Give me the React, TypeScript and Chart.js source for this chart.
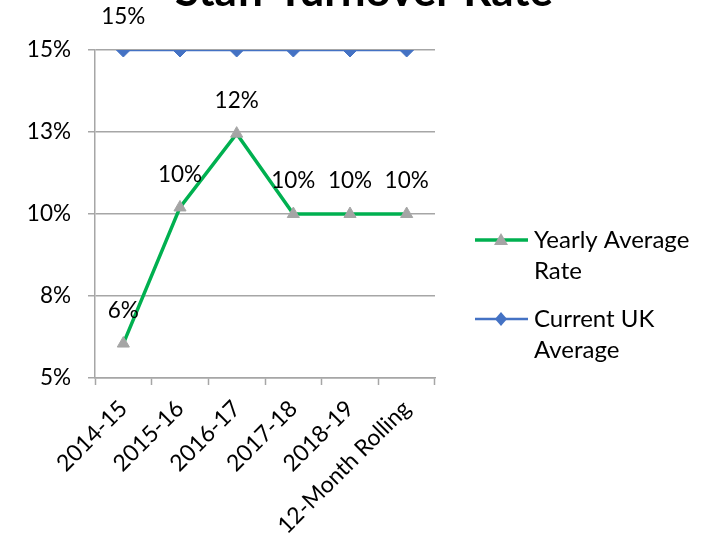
import React, { useEffect, useRef } from "react";
import { Chart, registerables } from "chart.js";

Chart.register(...registerables);

const categories = ["2014-15", "2015-16", "2016-17", "2017-18", "2018-19", "12-Month Rolling"];
const yearlyAverage = [6.05, 10.2, 12.45, 10.0, 10.0, 10.0];
const ukAverage = [15, 15, 15, 15, 15, 15];
const yearlyLabels = ["6%", "10%", "12%", "10%", "10%", "10%"];
const ukLabels = ["15%", "", "", "", "", ""];
const titleText = "Staff Turnover Rate";
const legendLines = [["Yearly Average", "Rate"], ["Current UK", "Average"]];

const FONT = "Lato, 'Open Sans', sans-serif";
const GREEN = "#00b050";
const BLUE = "#4472c4";
const GRAY_MARK = "#a5a5a5";
const GRID = "#a6a6a6";

const overlayPlugin = {
  id: "overlay",
  afterDatasetsDraw(chart: any) {
    const ctx = chart.ctx;
    ctx.save();
    // data labels
    ctx.fillStyle = "#000";
    ctx.font = `22.5px ${FONT}`;
    ctx.textAlign = "center";
    ctx.textBaseline = "middle";
    const labelSets = [yearlyLabels, ukLabels];
    labelSets.forEach((labels, di) => {
      const meta = chart.getDatasetMeta(di);
      meta.data.forEach((pt: any, i: number) => {
        if (labels[i]) ctx.fillText(labels[i], pt.x, pt.y - 33);
      });
    });
    // title
    ctx.font = `bold 44px ${FONT}`;
    ctx.textBaseline = "alphabetic";
    ctx.fillText(titleText, 364, 6);
    // legend
    const items = [
      { color: GREEN, width: 3.5, marker: "triangle", markerColor: GRAY_MARK, y: 240 },
      { color: BLUE, width: 2.5, marker: "diamond", markerColor: BLUE, y: 319 },
    ];
    items.forEach((it, idx) => {
      ctx.strokeStyle = it.color;
      ctx.lineWidth = it.width;
      ctx.beginPath();
      ctx.moveTo(475, it.y);
      ctx.lineTo(528, it.y);
      ctx.stroke();
      ctx.fillStyle = it.markerColor;
      ctx.beginPath();
      const cx = 501;
      if (it.marker === "triangle") {
        ctx.moveTo(cx, it.y - 7);
        ctx.lineTo(cx + 7, it.y + 5);
        ctx.lineTo(cx - 7, it.y + 5);
      } else {
        ctx.moveTo(cx, it.y - 7);
        ctx.lineTo(cx + 6, it.y);
        ctx.lineTo(cx, it.y + 7);
        ctx.lineTo(cx - 6, it.y);
      }
      ctx.closePath();
      ctx.fill();
      ctx.fillStyle = "#000";
      ctx.font = `24px ${FONT}`;
      ctx.textAlign = "left";
      ctx.textBaseline = "middle";
      legendLines[idx].forEach((line, li) => {
        ctx.fillText(line, 534, it.y + li * 31);
      });
    });
    ctx.restore();
  },
};

export default function App() {
  const ref = useRef<HTMLCanvasElement>(null);
  useEffect(() => {
    if (!ref.current) return;
    const chart = new Chart(ref.current, {
      type: "line",
      data: {
        labels: categories,
        datasets: [
          {
            label: "Yearly Average Rate",
            data: yearlyAverage,
            borderColor: GREEN,
            borderWidth: 3.5,
            pointStyle: "triangle",
            pointRadius: 7,
            pointBackgroundColor: GRAY_MARK,
            pointBorderColor: GRAY_MARK,
            pointBorderWidth: 1,
            tension: 0,
          },
          {
            label: "Current UK Average",
            data: ukAverage,
            borderColor: BLUE,
            borderWidth: 2.5,
            pointStyle: "rectRot",
            pointRadius: 7,
            pointBackgroundColor: BLUE,
            pointBorderColor: BLUE,
            pointBorderWidth: 1,
            tension: 0,
          },
        ],
      },
      options: {
        animation: false,
        responsive: false,
        maintainAspectRatio: false,
        layout: { padding: { top: 50, left: 0, right: 276, bottom: 0 } },
        plugins: {
          legend: { display: false },
          title: { display: false },
          tooltip: { enabled: false },
        },
        scales: {
          x: {
            type: "category",
            offset: true,
            afterFit: (s: any) => { s.height = 169; },
            grid: {
              offset: true,
              drawOnChartArea: false,
              drawTicks: true,
              tickLength: 7,
              color: GRID,
              tickWidth: 1.5,
            },
            border: { color: GRID, width: 1.5 },
            ticks: {
              color: "#000",
              font: { family: FONT, size: 23 },
              maxRotation: 45,
              minRotation: 45,
              autoSkip: false,
              padding: 10,
            },
          },
          y: {
            min: 5,
            max: 15,
            afterFit: (s: any) => { s.width = 95; },
            afterBuildTicks: (s: any) => {
              s.ticks = [5, 7.5, 10, 12.5, 15].map((v) => ({ value: v }));
            },
            grid: {
              color: GRID,
              lineWidth: 1.5,
              tickLength: 7,
            },
            border: { color: GRID, width: 1.5 },
            ticks: {
              color: "#000",
              font: { family: FONT, size: 22.5 },
              padding: 17,
              callback: (v: any) => Math.round(Number(v)) + "%",
            },
          },
        },
      },
      plugins: [overlayPlugin],
    });
    return () => chart.destroy();
  }, []);
  return (
    <div style={{ position: "absolute", left: 0, top: 0, width: 711, height: 547, background: "#fff" }}>
      <canvas ref={ref} width={711} height={547} style={{ display: "block" }} />
    </div>
  );
}
